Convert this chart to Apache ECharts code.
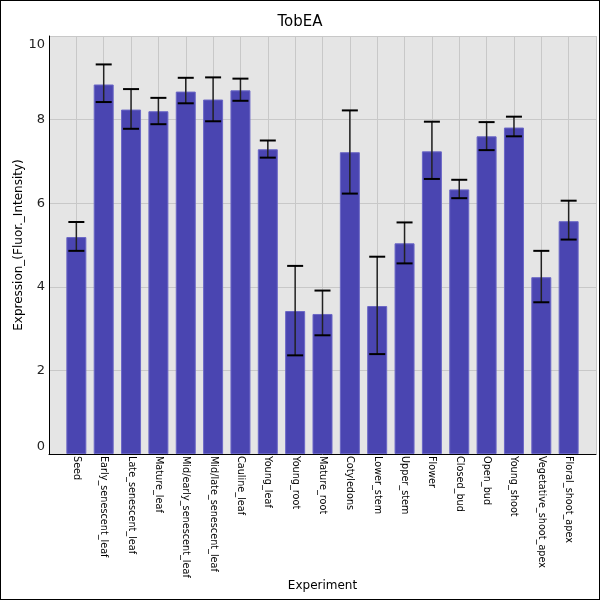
<!DOCTYPE html>
<html>
<head>
<meta charset="utf-8">
<script src="https://cdn.jsdelivr.net/npm/echarts@6/dist/echarts.min.js"></script>
<style>
	html, body { margin:0; padding:0; background:#fff; }
	#chart { width:600px; height:600px; box-sizing:border-box; border:1px solid #000; }
</style>
</head>
<body>
<div id="chart"></div>
<script>
	// categories
	var categories = ['Seed', 'Early_senescent_leaf', 'Late_senescent_leaf', 'Mature_leaf',
		'Mid/early_senescent_leaf', 'Mid/late_senescent_leaf', 'Cauline_leaf', 'Young_leaf',
		'Young_root', 'Mature_root', 'Cotyledons', 'Lower_stem', 'Upper_stem', 'Flower',
		'Closed_bud', 'Open_bud', 'Young_shoot', 'Vegetative_shoot_apex', 'Floral_shoot_apex'];

	var means = [5.19, 8.84, 8.24, 8.20, 8.67, 8.48, 8.70, 7.29, 3.42, 3.35,
		7.22, 3.54, 5.04, 7.24, 6.33, 7.60, 7.81, 4.23, 5.57];
	var upper = [5.55, 9.32, 8.73, 8.52, 9.00, 9.01, 8.98, 7.50, 4.50, 3.91,
		8.22, 4.72, 5.54, 7.95, 6.56, 7.94, 8.07, 4.86, 6.06];
	var lower = [4.86, 8.42, 7.78, 7.89, 8.39, 7.96, 8.45, 7.09, 2.36, 2.84,
		6.23, 2.39, 4.56, 6.58, 6.12, 7.27, 7.60, 3.63, 5.13];

	var yTicks = [0, 2, 4, 6, 8, 10];

	var font = 'DejaVu Sans';

	// one empty slot on each side, like the original's padding
	var xCats = [''].concat(categories).concat(['']);
	var barData = [null].concat(means).concat([null]);
	var errData = [];
	for (var i = 0; i < categories.length; i++) {
		errData.push([i + 1, lower[i], upper[i]]);
	}

	var chart = echarts.init(document.getElementById('chart'));

	chart.setOption({
		animation: false,
		title: {
			text: 'TobEA',
			left: 'center',
			top: 9,
			textStyle: { fontFamily: font, fontSize: 15, fontWeight: 'normal', color: '#000' }
		},
		grid: {
			left: 48, right: 3, top: 35, bottom: 145,
			outerBoundsMode: 'none',
			backgroundColor: '#e5e5e5', show: true, borderWidth: 0
		},
		xAxis: {
			type: 'category',
			data: xCats,
			boundaryGap: false,
			name: 'Experiment',
			nameLocation: 'middle',
			nameGap: 126,
			nameMoveOverlap: false,
			nameTextStyle: { fontFamily: font, fontSize: 12, color: '#000' },
			axisLine: { lineStyle: { color: '#000', width: 1 } },
			axisTick: { show: false },
			axisLabel: { rotate: -90, interval: 0, margin: 2, fontFamily: font, fontSize: 9.7, color: '#000' },
			splitLine: { show: true, lineStyle: { color: '#c8c8c8', width: 1 } }
		},
		yAxis: {
			type: 'value',
			min: 0,
			max: 10,
			interval: 2,
			name: 'Expression_(Fluor._Intensity)',
			nameLocation: 'middle',
			nameGap: 24,
			nameMoveOverlap: false,
			nameTextStyle: { fontFamily: font, fontSize: 12, color: '#000' },
			axisLine: { show: true, lineStyle: { color: '#000', width: 1 } },
			axisTick: { show: false },
			axisLabel: {
				margin: 4,
				fontFamily: font,
				fontSize: 13,
				color: '#222',
				formatter: function (v) {
					if (v === yTicks[yTicks.length - 1]) return '{t|' + v + '}';
					if (v === yTicks[0]) return '{b|' + v + '}';
					return v;
				},
				rich: {
					t: { padding: [18, 0, 0, 0], fontFamily: font, fontSize: 13, color: '#222' },
					b: { padding: [0, 0, 14, 0], fontFamily: font, fontSize: 13, color: '#222' }
				}
			},
			splitLine: { show: true, lineStyle: { color: '#c8c8c8', width: 1 } }
		},
		series: [
			{
				type: 'bar',
				data: barData,
				barWidth: 20,
				itemStyle: { color: '#4a45b1', borderColor: '#6b67c6', borderWidth: 1 }
			},
			{
				type: 'custom',
				data: errData,
				z: 10,
				renderItem: function (params, api) {
					var x = api.value(0);
					var lo = api.coord([x, api.value(1)]);
					var hi = api.coord([x, api.value(2)]);
					var hw = 8;
					return {
						type: 'group',
						children: [
							{ type: 'line', shape: { x1: lo[0], y1: lo[1], x2: hi[0], y2: hi[1] },
								style: { stroke: '#222', lineWidth: 1.5 } },
							{ type: 'line', shape: { x1: hi[0] - hw, y1: hi[1], x2: hi[0] + hw, y2: hi[1] },
								style: { stroke: '#000', lineWidth: 2 } },
							{ type: 'line', shape: { x1: lo[0] - hw, y1: lo[1], x2: lo[0] + hw, y2: lo[1] },
								style: { stroke: '#000', lineWidth: 2 } }
						]
					};
				}
			}
		]
	});
</script>
</body>
</html>
